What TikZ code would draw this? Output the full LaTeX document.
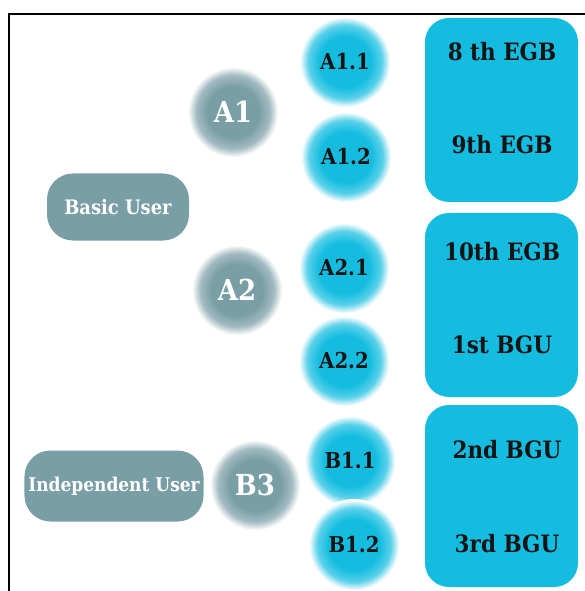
\documentclass[tikz,border=0pt]{standalone}
\usepackage{fontspec}
\setmainfont{DejaVu Serif Condensed}
\usetikzlibrary{positioning}

\definecolor{slate}{HTML}{7A9EA6}
\definecolor{skyblue}{HTML}{14BDE0}
\definecolor{inkdark}{HTML}{141414}

\pgfdeclareradialshading{slateglow}{\pgfpoint{0bp}{0bp}}{%
  color(0bp)=(slate); color(14bp)=(slate); color(20bp)=(slate!70!white);
  color(24.5bp)=(white); color(50bp)=(white)}
\pgfdeclareradialshading{skyglow}{\pgfpoint{0bp}{0bp}}{%
  color(0bp)=(skyblue); color(14bp)=(skyblue); color(20bp)=(skyblue!70!white);
  color(24.5bp)=(white); color(50bp)=(white)}

\begin{document}
\begin{tikzpicture}[
    x=1bp, y=-1bp,
    usergroup/.style={
        rectangle,
        rounded corners=26bp,
        fill=slate,
        text=white,
        inner sep=0pt,
    },
    level/.style={
        circle,
        shading=slateglow,
        minimum size=92bp,
        inner sep=0pt,
        text=white,
        font=\fontsize{29}{32}\selectfont\bfseries,
    },
    sublevel/.style={
        circle,
        shading=skyglow,
        minimum size=92bp,
        inner sep=0pt,
        text=inkdark,
        font=\fontsize{22}{26}\selectfont\bfseries,
    },
    gradebox/.style={
        rectangle,
        rounded corners=24bp,
        fill=skyblue,
        minimum width=153bp,
        inner sep=0pt,
    },
    gradetext/.style={
        anchor=base,
        text=inkdark,
        font=\fontsize{24}{28}\selectfont\bfseries,
    }
]
    \useasboundingbox (0,0) rectangle (585,591);

    % Frame
    \coordinate (framebottom) at (9,591);
    \coordinate (frametop) at (9,14);
    \coordinate (frameright) at (585,14);
    \draw[line width=2.6bp] (framebottom) -- (frametop) -- (frameright);

    % User groups
    \node[usergroup, minimum width=142bp, minimum height=67bp,
          font=\fontsize{20}{24}\selectfont\bfseries] (basic) at (118,207) {Basic User};
    \node[usergroup, minimum width=179bp, minimum height=71bp,
          font=\fontsize{19}{22}\selectfont\bfseries] (independent) at (114,486) {Independent User};

    % Levels
    \node[level] (A1) at (233,112) {A1};
    \node[level] (A2) at (237,290) {A2};
    \node[level] (B3) at (255,485) {B3};

    % Sub levels
    \node[sublevel] (A11) at (345,62) {A1.1};
    \node[sublevel] (A12) at (346,157) {A1.2};
    \node[sublevel] (A21) at (344,268) {A2.1};
    \node[sublevel] (A22) at (344,361) {A2.2};
    \node[sublevel] (B11) at (350,461) {B1.1};
    \node[sublevel] (B12) at (354,545) {B1.2};

    % Grade boxes
    \node[gradebox, minimum height=184bp] (egb) at (501.5,110) {};
    \node[gradebox, minimum height=184bp] (mixed) at (501.5,305) {};
    \node[gradebox, minimum height=182bp] (bgu) at (501.5,496) {};

    % Grades
    \node[gradetext] (grade8) at (502,61) {8 th EGB};
    \node[gradetext] (grade9) at (502,154) {9th EGB};
    \node[gradetext] (grade10) at (502,260) {10th EGB};
    \node[gradetext] (bgu1) at (502,353) {1st BGU};
    \node[gradetext] (bgu2) at (507,458) {2nd BGU};
    \node[gradetext] (bgu3) at (507,552) {3rd BGU};
\end{tikzpicture}
\end{document}
